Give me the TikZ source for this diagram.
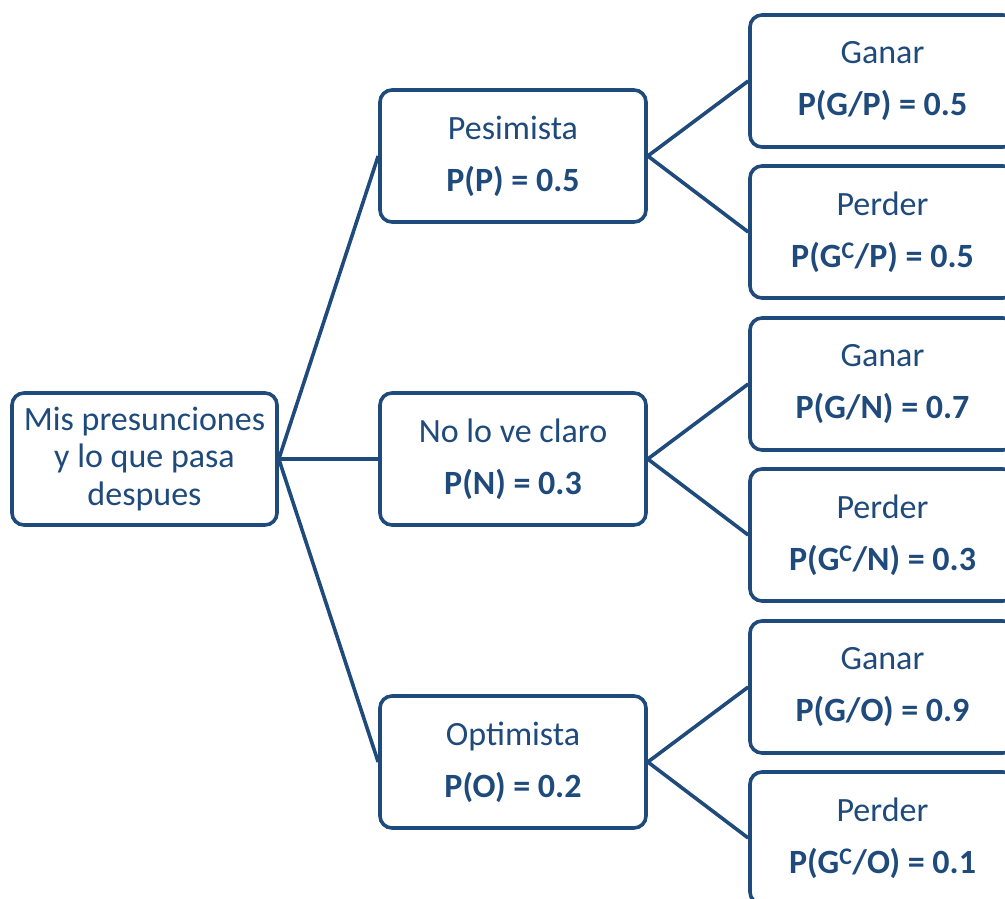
\documentclass[tikz,border=0pt]{standalone}
\usepackage{fontspec}
\setmainfont{Carlito}
\definecolor{navy}{HTML}{1F4A7C}
\begin{document}
\begin{tikzpicture}[x=1pt,y=-1pt,
  box/.style={draw=navy, line width=3.6pt, rounded corners=12pt, fill=white,
    minimum width=265pt, minimum height=132pt, inner sep=0pt, align=center,
    text=navy, font=\fontsize{34}{37.4}\selectfont},
  link/.style={draw=navy, line width=3.6pt}]
\useasboundingbox (0,0) rectangle (1005,899);
\clip (0,0) rectangle (1005,899);
\node[box] (root) at (144.5,459) {Mis presunciones\\y lo que pasa\\despues};
\node[box, minimum width=266pt] (pes) at (513,156) {Pesimista\\[14.6pt]\textbf{P(P) = 0.5}};
\node[box, minimum width=266pt] (neu) at (513,459) {No lo ve claro\\[14.6pt]\textbf{P(N) = 0.3}};
\node[box, minimum width=266pt] (opt) at (513,762) {Optimista\\[14.6pt]\textbf{P(O) = 0.2}};
\node[box] (pg) at (882.5,81) {Ganar\\[14.6pt]\textbf{P(G/P) = 0.5}};
\node[box] (pp) at (882.5,232) {Perder\\[14.6pt]\textbf{P(G\textsuperscript{C}/P) = 0.5}};
\node[box] (ng) at (882.5,384) {Ganar\\[14.6pt]\textbf{P(G/N) = 0.7}};
\node[box] (np) at (882.5,535) {Perder\\[14.6pt]\textbf{P(G\textsuperscript{C}/N) = 0.3}};
\node[box] (og) at (882.5,687) {Ganar\\[14.6pt]\textbf{P(G/O) = 0.9}};
\node[box] (op) at (882.5,838) {Perder\\[14.6pt]\textbf{P(G\textsuperscript{C}/O) = 0.1}};
\draw[link] (root.east) -- (pes.west);
\draw[link] (root.east) -- (neu.west);
\draw[link] (root.east) -- (opt.west);
\draw[link] (pes.east) -- (pg.west);
\draw[link] (pes.east) -- (pp.west);
\draw[link] (neu.east) -- (ng.west);
\draw[link] (neu.east) -- (np.west);
\draw[link] (opt.east) -- (og.west);
\draw[link] (opt.east) -- (op.west);
\end{tikzpicture}
\end{document}
